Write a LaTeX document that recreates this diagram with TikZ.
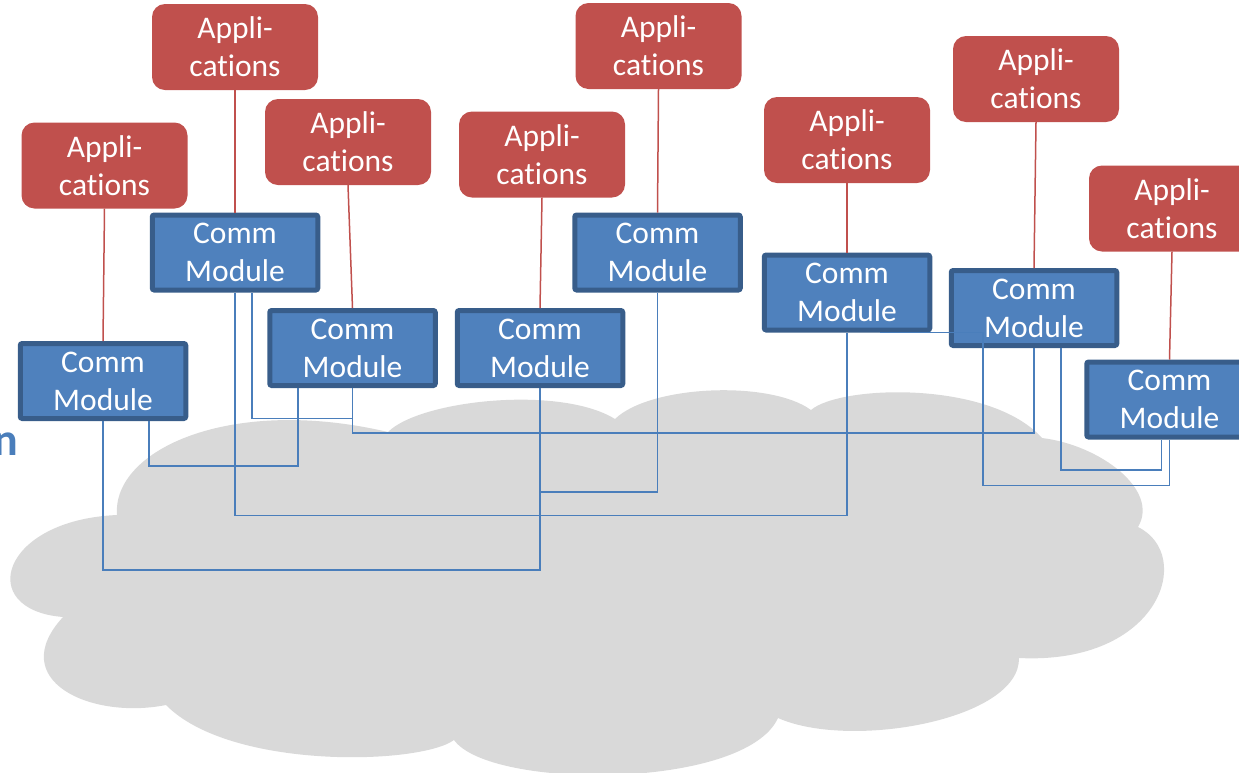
\documentclass[tikz,border=0pt]{standalone}
\usepackage{fontspec}
\setmainfont[Ligatures=NoCommon]{Carlito}
% keep "t" and "i" as separate glyphs
\newcommand{\apptext}{Appli-\\cat\kern0pt ions}
\begin{document}
\begin{tikzpicture}[x=1pt,y=-1pt,
  appbox/.style={fill=appred, draw=none, rounded corners=13pt, text=white,
    minimum width=166pt, minimum height=86pt, inner sep=0pt, align=center,
    font=\fontsize{31.5}{38}\selectfont},
  commbox/.style={fill=commfill, draw=commedge, line width=5pt, rounded corners=2pt,
    text=white, minimum width=165.5pt, minimum height=75pt, inner sep=0pt, align=center,
    font=\fontsize{31.5}{38}\selectfont},
  uplink/.style={draw=appred, line width=1.5pt},
  netlink/.style={draw=linkblue, line width=1.6pt}]
\definecolor{appred}{HTML}{C0504D}
\definecolor{commfill}{HTML}{4F81BD}
\definecolor{commedge}{HTML}{385D8A}
\definecolor{linkblue}{HTML}{4A7EBB}
\definecolor{cloudgray}{HTML}{D9D9D9}
\useasboundingbox (0,0) rectangle (1239,772);
\clip (0,0) rectangle (1239,772);

% network cloud
\fill[cloudgray] (63,617)
  .. controls (-25,610) and (0,520) .. (117,515)
  .. controls (112,450) and (230,395) .. (388,432)
  .. controls (420,400) and (560,385) .. (615,419)
  .. controls (650,385) and (770,380) .. (811,410)
  .. controls (840,385) and (990,380) .. (1042,438)
  .. controls (1100,445) and (1160,490) .. (1138,527)
  .. controls (1195,555) and (1160,665) .. (1019,658)
  .. controls (1020,720) and (850,750) .. (778,718)
  .. controls (745,790) and (490,790) .. (454,740)
  .. controls (420,765) and (230,770) .. (166,705)
  .. controls (90,720) and (5,680) .. (63,617) -- cycle;

% cut-off caption at the left edge
\node[anchor=base east, inner sep=0pt, text=linkblue,
  font=\fontsize{46}{50}\selectfont\bfseries] (caption) at (18.5,455) {n};

% applications
\node[appbox] (a1) at (104.5,165.5) {\apptext};
\node[appbox] (a2) at (235,47) {\apptext};
\node[appbox] (a3) at (348,142) {\apptext};
\node[appbox] (a4) at (542,154.5) {\apptext};
\node[appbox] (a5) at (658.5,46) {\apptext};
\node[appbox] (a6) at (847,140) {\apptext};
\node[appbox] (a7) at (1036,79) {\apptext};
\node[appbox] (a8) at (1172,208.5) {\apptext};

% communication modules
\node[commbox] (c1) at (103,381) {Comm\\Module};
\node[commbox] (c2) at (235,252.5) {Comm\\Module};
\node[commbox] (c3) at (352.5,348) {Comm\\Module};
\node[commbox] (c4) at (540,348) {Comm\\Module};
\node[commbox] (c5) at (657.5,252.5) {Comm\\Module};
\node[commbox] (c6) at (847,292.5) {Comm\\Module};
\node[commbox] (c7) at (1034,308) {Comm\\Module};
\node[commbox] (c8) at (1169.5,399.5) {Comm\\Module};

% application to module
\foreach \i in {1,...,8} {
  \draw[uplink] (a\i.south) -- (c\i.north);
}

% module to module links
\draw[netlink] (c1.south) -- ++(0,149) -| (c4.south);
\draw[netlink] ([xshift=46pt]c1.south) -- ++(0,45) -| ([xshift=-54.5pt]c3.south);
\draw[netlink] (c2.south) -- ++(0,223) -| (c6.south);
\draw[netlink] ([xshift=17pt]c2.south) -- ++(0,126) -| (c3.south);
\draw[netlink] (c3.south) -- ++(0,45) -| (c7.south);
\draw[netlink] (c4.south) -- ++(0,104) -| (c5.south);
\draw[netlink] ([xshift=33pt]c6.south) -- ++(103,0) -- ++(0,153) -| (c8.south);
\draw[netlink] ([xshift=27pt]c7.south) -- ++(0,122) -| ([xshift=-8pt]c8.south);
\end{tikzpicture}
\end{document}
